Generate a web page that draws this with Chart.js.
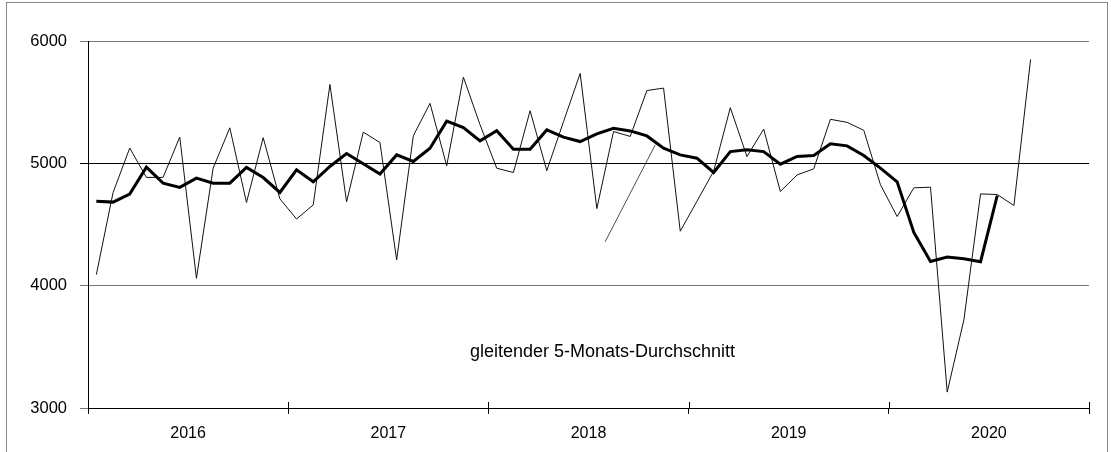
<!DOCTYPE html>
<html>
<head>
<meta charset="utf-8">
<script src="https://cdn.jsdelivr.net/npm/chart.js@4"></script>
<style>
  body { margin: 0; background: #fff; }
  #wrap { width: 1111px; height: 452px; position: relative; }
</style>
</head>
<body>
<div id="wrap"><canvas id="chart"></canvas></div>
<script>
// Jahre (x-Achse), je 12 Monate
const years = ['2016', '2017', '2018', '2019', '2020'];

// Monatswerte Jan 2016 - Sep 2020
const monthly = [
  4090, 4760, 5125, 4885, 4885, 5215, 4060, 4960, 5290, 4680, 5210, 4710,
  4545, 4660, 5645, 4685, 5255, 5170, 4210, 5225, 5490, 4980, 5705, 5315,
  4960, 4925, 5430, 4940, 5340, 5735, 4630, 5260, 5220, 5595, 5615, 4445,
  4690, 4935, 5455, 5055, 5280, 4770, 4905, 4955, 5360, 5335, 5270, 4825,
  4565, 4800, 4805, 3130, 3720, 4750, 4745, 4655, 5850
];

// gleitender 5-Monats-Durchschnitt Jan 2016 - Jul 2020
const movingAvg = [
  4690, 4683, 4749, 4969, 4838, 4803, 4879, 4838, 4838, 4966, 4884, 4762,
  4947, 4849, 4974, 5080, 4996, 4912, 5069, 5015, 5124, 5345, 5292, 5184,
  5266, 5116, 5116, 5273, 5214, 5178, 5241, 5287, 5265, 5224, 5124, 5069,
  5042, 4925, 5096, 5110, 5096, 4993, 5056, 5064, 5159, 5143, 5064, 4961,
  4849, 4435, 4198, 4234, 4220, 4196, 4737
];

const yTicks = [3000, 4000, 5000, 6000];

// Beschriftung und Hinweislinie (in Monats-/Wertkoordinaten)
const noteText = 'gleitender 5-Monats-Durchschnitt';
const notePos = [30.84, 3461];
const pointerX = [31.0, 34.0];
const pointerY = [4359, 5151];

const FONT = "'Liberation Sans', Arial, sans-serif";

const toPoints = arr => arr.map((v, i) => ({x: i + 0.5, y: v}));

const frame = {
  id: 'frame',
  afterDraw(chart) {
    const ctx = chart.ctx;
    const xs = chart.scales.x;
    const bottom = chart.chartArea.bottom;
    ctx.save();
    // Tick-Striche nach oben verlängern
    ctx.strokeStyle = '#000';
    ctx.lineWidth = 1;
    for (let v = 0; v <= 60; v += 12) {
      const px = Math.round(xs.getPixelForValue(v)) + 0.5;
      ctx.beginPath();
      ctx.moveTo(px, bottom - 6);
      ctx.lineTo(px, bottom);
      ctx.stroke();
    }
    // Text
    ctx.fillStyle = '#000';
    ctx.font = '18px ' + FONT;
    ctx.textAlign = 'center';
    ctx.textBaseline = 'middle';
    ctx.fillText(noteText, xs.getPixelForValue(notePos[0]), chart.scales.y.getPixelForValue(notePos[1]));
    // Rahmen
    ctx.strokeStyle = '#888';
    ctx.strokeRect(6.5, 2.5, 1101, 520);
    ctx.restore();
  }
};

new Chart(document.getElementById('chart'), {
  type: 'line',
  data: {
    datasets: [
      {
        data: toPoints(movingAvg),
        borderColor: '#000',
        borderWidth: 3,
        pointRadius: 0,
        tension: 0
      },
      {
        data: toPoints(monthly),
        borderColor: '#111',
        borderWidth: 1,
        pointRadius: 0,
        tension: 0
      },
      {
        data: pointerX.map((x, i) => ({x: x, y: pointerY[i]})),
        borderColor: '#222',
        borderWidth: 0.8,
        pointRadius: 0,
        tension: 0
      }
    ]
  },
  options: {
    responsive: true,
    maintainAspectRatio: false,
    animation: false,
    layout: { padding: { top: 41, right: 22, left: 0, bottom: 0 } },
    plugins: {
      legend: { display: false },
      tooltip: { enabled: false }
    },
    scales: {
      x: {
        type: 'linear',
        min: 0,
        max: 60,
        afterBuildTicks: axis => {
          const t = [];
          for (let v = 0; v <= 60; v += 6) t.push({value: v});
          axis.ticks = t;
        },
        afterFit: scale => { scale.height = 44; },
        grid: {
          drawOnChartArea: false,
          drawTicks: true,
          tickLength: 6,
          color: c => (c.tick && c.tick.value % 12 === 0) ? '#000' : 'rgba(0,0,0,0)'
        },
        border: { display: true, color: '#000', width: 1 },
        ticks: {
          autoSkip: false,
          maxRotation: 0,
          padding: 10,
          color: '#000',
          font: { family: FONT, size: 16 },
          callback: v => (v % 12 === 6) ? years[(v - 6) / 12] : ''
        }
      },
      y: {
        min: 3000,
        max: 6000,
        afterBuildTicks: axis => { axis.ticks = yTicks.map(v => ({value: v})); },
        afterFit: scale => { scale.width = 88; },
        grid: {
          drawTicks: true,
          tickLength: 8,
          color: c => (c.tick && c.tick.value === 5000) ? '#000' : '#777'
        },
        border: { display: true, color: '#000', width: 1 },
        ticks: {
          padding: 13,
          color: '#000',
          font: { family: FONT, size: 16.5 },
          callback: v => String(v)
        }
      }
    }
  },
  plugins: [frame]
});
</script>
</body>
</html>
